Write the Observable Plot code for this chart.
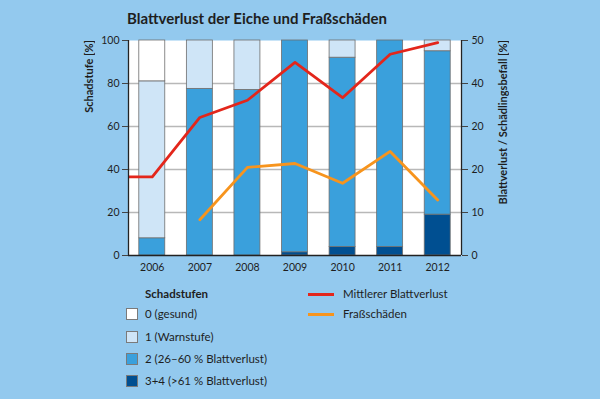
<!DOCTYPE html>
<html>
<head>
<meta charset="utf-8">
<script src="https://cdn.jsdelivr.net/npm/d3@7"></script>
<script src="https://cdn.jsdelivr.net/npm/@observablehq/plot@0.6"></script>
<style>
  html, body { margin: 0; padding: 0; }
  body { width: 600px; height: 399px; background: #93c9ee; position: relative; overflow: hidden; font-family: Lato, "Open Sans", sans-serif; color: #1e1e1e; }
  #title { position: absolute; left: 127px; top: 9px; font-size: 15px; font-weight: bold; white-space: nowrap; }
  #chart { position: absolute; left: 0; top: 0; }
  .ylab { position: absolute; top: 40px; font-size: 11px; font-weight: bold; writing-mode: vertical-rl; transform: rotate(180deg); white-space: nowrap; }
  .leg { position: absolute; font-size: 11.5px; white-space: nowrap; line-height: 14px; }
  .sw { position: absolute; width: 10px; height: 10px; border: 1px solid #7a7a7a; }
  .ln { position: absolute; width: 26px; height: 3px; }
</style>
</head>
<body>
<div id="title">Blattverlust der Eiche und Fraßschäden</div>
<div id="chart"></div>
<div class="ylab" style="left:82px">Schadstufe [%]</div>
<div class="ylab" style="left:496px">Blattverlust / Schädlingsbefall [%]</div>
<div id="legend"></div>
<script>
// ---- data ----
const years = [2006, 2007, 2008, 2009, 2010, 2011, 2012];
const level34 = [0, 0, 0, 1.5, 4, 4, 19];
const level2 = [8, 77.5, 77, 98.5, 88, 96, 76];
const level1 = [73, 22.5, 23, 0, 8, 0, 5];
const level0 = [19, 0, 0, 0, 0, 0, 0];
const levelNames = ["3+4 (>61 % Blattverlust)", "2 (26–60 % Blattverlust)", "1 (Warnstufe)", "0 (gesund)"];
const levelColors = ["#004f91", "#3aa0dc", "#cfe5f7", "#ffffff"];
const blattYears = [2005, 2006, 2007, 2008, 2009, 2010, 2011, 2012];
const blattverlust = [18.3, 18.3, 32.1, 36.1, 44.9, 36.7, 46.8, 49.5];
const frassYears = [2007, 2008, 2009, 2010, 2011, 2012];
const frass = [8.3, 20.5, 21.4, 16.8, 24.2, 12.9];
const yTicks = [0, 20, 40, 60, 80, 100];
const rightTickLabels = ["0", "10", "20", "20", "40", "50"];
const seriesNames = ["Mittlerer Blattverlust", "Fraßschäden"];
const seriesColors = ["#e3261b", "#f7941d"];
const legendTitle = "Schadstufen";

// ---- build tables ----
const halfW = 0.273;
const levels = [level34, level2, level1, level0];
const rows = [];
years.forEach((yr, i) => {
  let acc = 0;
  levels.forEach((arr, k) => {
    const v = arr[i];
    if (v > 0) rows.push({year: yr, level: levelNames[k], y1: acc, y2: acc + v});
    acc += v;
  });
});
const blatt = blattYears.map((x, i) => ({x, v: blattverlust[i]}));
const fr = frassYears.map((x, i) => ({x, v: frass[i]}));

const chart = Plot.plot({
  width: 600, height: 280,
  marginLeft: 128, marginRight: 139, marginTop: 40, marginBottom: 25,
  style: {background: "transparent", fontFamily: "Lato, 'Open Sans', sans-serif", fontSize: "10.5px", color: "#1e1e1e", overflow: "visible"},
  x: {domain: [2005.5, 2012.5], axis: null},
  y: {domain: [0, 100], axis: null},
  color: {domain: levelNames, range: levelColors},
  marks: [
    Plot.frame({fill: "white", stroke: null}),
    Plot.gridY([20, 40, 60, 80], {stroke: "#b8b8b8", strokeOpacity: 1, strokeWidth: 1.5}),
    Plot.rect(rows, {x1: d => d.year - halfW, x2: d => d.year + halfW, y1: "y1", y2: "y2", fill: "level", stroke: "#6e6e6e", strokeWidth: 0.8}),
    Plot.line(blatt, {x: "x", y: d => d.v * 2, stroke: seriesColors[0], strokeWidth: 2.8, clip: true}),
    Plot.line(fr, {x: "x", y: d => d.v * 2, stroke: seriesColors[1], strokeWidth: 2.8}),
    Plot.ruleX([2005.5, 2012.5], {stroke: "#222", strokeWidth: 1.3}),
    Plot.ruleY([0], {stroke: "#222", strokeWidth: 1.3}),
    Plot.axisY({anchor: "left", ticks: yTicks, tickSize: 6, tickPadding: 3, label: null, stroke: "#444"}),
    Plot.axisY({anchor: "right", ticks: yTicks, tickSize: 6, tickPadding: 4, label: null, stroke: "#444", tickFormat: d => rightTickLabels[yTicks.indexOf(d)]}),
    Plot.axisX({ticks: years, tickSize: 0, tickPadding: 8, label: null, tickFormat: d => String(d)})
  ]
});
document.getElementById("chart").appendChild(chart);

// ---- legend ----
const leg = document.getElementById("legend");
function add(html) { leg.insertAdjacentHTML("beforeend", html); }
add(`<div class="leg" style="left:145px;top:287px;font-weight:bold">${legendTitle}</div>`);
const order = [3, 2, 1, 0];
const rowTops = [307, 330, 352, 374];
order.forEach((k, j) => {
  add(`<div class="sw" style="left:126px;top:${rowTops[j] + 1}px;background:${levelColors[k]}"></div>`);
  add(`<div class="leg" style="left:145px;top:${rowTops[j]}px">${levelNames[k]}</div>`);
});
seriesNames.forEach((n, j) => {
  const t = [287, 307][j];
  add(`<div class="ln" style="left:308px;top:${t + 6}px;background:${seriesColors[j]}"></div>`);
  add(`<div class="leg" style="left:343px;top:${t}px">${n}</div>`);
});
</script>
</body>
</html>
